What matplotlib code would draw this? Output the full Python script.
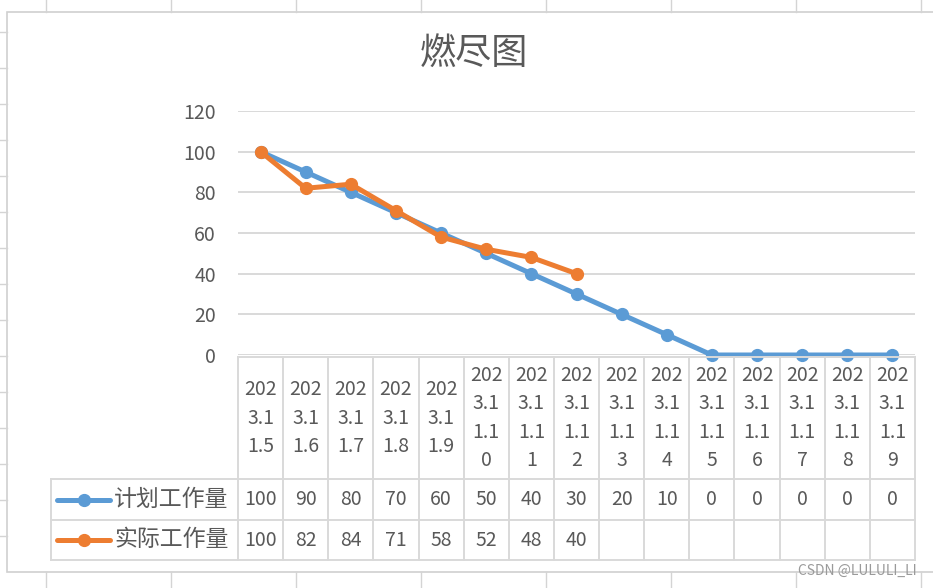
import textwrap
import matplotlib
matplotlib.use("Agg")
from matplotlib import pyplot as plt
from matplotlib.patches import Rectangle

plt.rcParams['font.family'] = ['Noto Sans CJK SC', 'DejaVu Sans']

dates = ["2023.11.5", "2023.11.6", "2023.11.7", "2023.11.8", "2023.11.9",
         "2023.11.10", "2023.11.11", "2023.11.12", "2023.11.13", "2023.11.14",
         "2023.11.15", "2023.11.16", "2023.11.17", "2023.11.18", "2023.11.19"]
planned = [100, 90, 80, 70, 60, 50, 40, 30, 20, 10, 0, 0, 0, 0, 0]
actual = [100, 82, 84, 71, 58, 52, 48, 40]
series_names = ["计划工作量", "实际工作量"]
yticks = [0, 20, 40, 60, 80, 100, 120]
title = "燃尽图"

blue = '#5B9BD5'
orange = '#ED7D31'
txt = '#595959'
grid_c = '#D9D9D9'
fs = 14

W, H = 933, 588
fig = plt.figure(figsize=(W / 100, H / 100), dpi=100)

# spreadsheet background + chart frame (pixel coords)
bg = fig.add_axes([0, 0, 1, 1])
bg.set_xlim(0, W)
bg.set_ylim(H, 0)
bg.axis('off')
for x in range(46, W, 125):
    bg.plot([x, x], [0, 12], color='#D4D4D4', lw=1)
    bg.plot([x, x], [572, H], color='#D4D4D4', lw=1)
for y in range(32, 572, 36):
    bg.plot([0, 7], [y, y], color='#D4D4D4', lw=1)
bg.add_patch(Rectangle((7, 12), W, 560, facecolor='white', edgecolor='#D0D0D0', lw=1.2))

# plot area
px_l, px_r, px_t, px_b = 238, 915, 111, 355
ax = fig.add_axes([px_l / W, 1 - px_b / H, (px_r - px_l) / W, (px_b - px_t) / H])
ax.set_facecolor('none')
n = len(dates)
xs = list(range(n))
ax.set_xlim(-0.5, n - 0.5)
ax.set_ylim(0, 120)
ax.set_yticks(yticks)
ax.set_yticklabels([str(v) for v in yticks], fontsize=fs, color=txt)
ax.tick_params(axis='y', length=0, pad=16)
ax.set_xticks([])
for s in ax.spines.values():
    s.set_visible(False)
ax.yaxis.grid(True, color=grid_c, lw=1.4)
ax.set_axisbelow(True)

ax.plot(xs, planned, color=blue, lw=3.6, marker='o', ms=8.5, clip_on=False,
        solid_capstyle='round', zorder=3)
ax.plot(xs[:len(actual)], actual, color=orange, lw=3.6, marker='o', ms=8.5,
        clip_on=False, solid_capstyle='round', zorder=4)

fig.text(474 / W, 1 - 54 / H, title, fontsize=26, color=txt, ha='center', va='center',
         fontweight='light')

# data table under the axis (x shared with plot, y in pixels)
tb_t, tb_b = 357, 560
tab = fig.add_axes([px_l / W, 1 - tb_b / H, (px_r - px_l) / W, (tb_b - tb_t) / H],
                   sharex=ax)
tab.set_ylim(tb_b, tb_t)
tab.axis('off')
rows = [357, 479, 520, 560]
col_px = (px_r - px_l) / n
leg_l = -0.5 - (px_l - 51) / col_px

kw = dict(color=grid_c, lw=1.4, clip_on=False)
tab.plot([-0.5, n - 0.5], [rows[0], rows[0]], **kw)
for r in rows[1:]:
    tab.plot([leg_l, n - 0.5], [r, r], **kw)
for i in range(n + 1):
    tab.plot([i - 0.5, i - 0.5], [rows[0], rows[-1]], **kw)
tab.plot([leg_l, leg_l], [rows[1], rows[-1]], **kw)

for i, d in enumerate(dates):
    tab.text(i, (rows[0] + rows[1]) / 2, "\n".join(textwrap.wrap(d, 3)),
             ha='center', va='center', fontsize=fs, color=txt, linespacing=1.45)

for k, (vals, c) in enumerate([(planned, blue), (actual, orange)]):
    yc = (rows[k + 1] + rows[k + 2]) / 2
    for i, v in enumerate(vals):
        tab.text(i, yc, str(v), ha='center', va='center', fontsize=fs, color=txt)
    x0 = leg_l + (57 - 51) / col_px
    x1 = leg_l + (110 - 51) / col_px
    tab.plot([x0, x1], [yc, yc], color=c, lw=3.6, solid_capstyle='round', clip_on=False)
    tab.plot([(x0 + x1) / 2], [yc], 'o', color=c, ms=8.5, clip_on=False)
    tab.text(leg_l + (114 - 51) / col_px, yc, series_names[k], ha='left', va='center',
             fontsize=16.5, color=txt)

fig.text(917 / W, 1 - 571 / H, "CSDN @LULULI_LI", fontsize=10, color='#9A9A9A',
         ha='right', va='center')

fig.savefig("out.png", dpi=100)
